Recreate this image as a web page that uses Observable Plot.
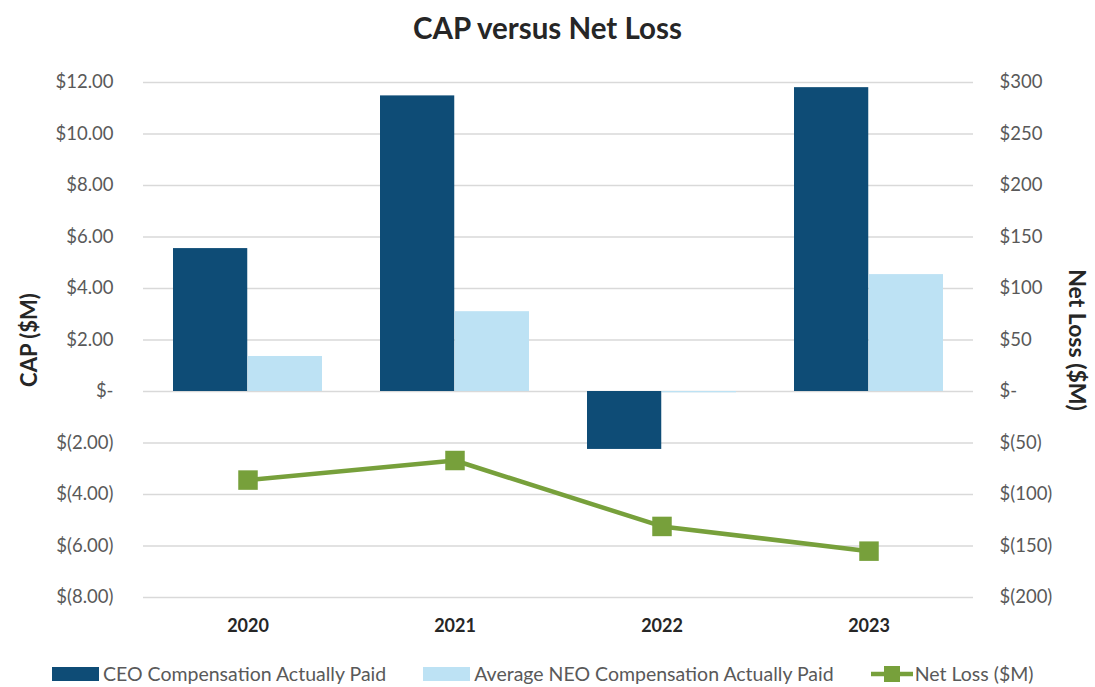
<!DOCTYPE html>
<html><head><meta charset="utf-8">
<script src="https://cdn.jsdelivr.net/npm/d3@7"></script>
<script src="https://cdn.jsdelivr.net/npm/@observablehq/plot@0.6"></script>
<style>
body{margin:0;background:#fff;font-family:Lato,"Open Sans",sans-serif;}
#wrap{position:relative;width:1095px;height:687px;overflow:hidden;}
#title{position:absolute;top:10px;left:0;width:1095px;text-align:center;font-weight:bold;font-size:29.5px;color:#262626;}
#chart{position:absolute;top:60px;left:0;}
.ylab{position:absolute;font-weight:bold;font-size:22px;color:#262626;white-space:nowrap;}
#ylL{left:28px;top:340px;transform:translate(-50%,-50%) rotate(-90deg);}
#ylR{left:1078px;top:340px;transform:translate(-50%,-50%) rotate(90deg);font-size:23px;}
#legend{position:absolute;top:662px;left:52px;display:flex;align-items:center;font-size:19.5px;color:#595959;}
.sw{display:inline-block;width:47px;height:14px;margin-right:4px;}
.item{display:flex;align-items:center;margin-right:37px;}
</style></head>
<body>
<div id="wrap">
<div id="title">CAP versus Net Loss</div>
<div id="chart"></div>
<div class="ylab" id="ylL">CAP ($M)</div>
<div class="ylab" id="ylR">Net Loss ($M)</div>
<div id="legend"></div>
</div>
<script>
const years = ["2020", "2021", "2022", "2023"];
const ceoCAP = [5.55, 11.48, -2.25, 11.80];
const neoCAP = [1.36, 3.10, -0.05, 4.54];
const netLoss = [-86, -67, -131, -155];
const leftTicks = [12, 10, 8, 6, 4, 2, 0, -2, -4, -6, -8];
const rightTicks = [300, 250, 200, 150, 100, 50, 0, -50, -100, -150, -200];
const seriesNames = ["CEO Compensation Actually Paid", "Average NEO Compensation Actually Paid", "Net Loss ($M)"];

const colors = {ceo: "#0e4c76", neo: "#bde2f4", loss: "#77a03b"};
const ratio = 25; // right axis units per left axis unit

const rows = years.map((y, i) => ({year: y, ceo: ceoCAP[i], neo: neoCAP[i], loss: netLoss[i]}));

const fmtL = d => d === 0 ? "$-" : d < 0 ? `$(${Math.abs(d).toFixed(2)})` : `$${d.toFixed(2)}`;
const fmtR = d => d === 0 ? "$-" : d < 0 ? `$(${Math.abs(d)})` : `$${d}`;

const plot = Plot.plot({
  width: 1095,
  height: 580,
  marginLeft: 143,
  marginRight: 122,
  marginTop: 22,
  marginBottom: 43,
  style: {fontFamily: "Lato, 'Open Sans', sans-serif", fontSize: "18.5px", color: "#595959", background: "transparent"},
  x: {domain: years, padding: 0, label: null},
  y: {domain: [-8, 12], label: null},
  marks: [
    Plot.ruleY(leftTicks, {stroke: "#d9d9d9", strokeWidth: 1.5}),
    Plot.barY(rows, {x: "year", y: "ceo", fill: colors.ceo, insetLeft: 29, insetRight: 103.75}),
    Plot.barY(rows, {x: "year", y: "neo", fill: colors.neo, insetLeft: 103.75, insetRight: 29}),
    Plot.line(rows, {x: "year", y: d => d.loss / ratio, stroke: colors.loss, strokeWidth: 4.5}),
    Plot.dot(rows, {x: "year", y: d => d.loss / ratio, symbol: "square", r: 11, fill: colors.loss}),
    Plot.axisY({anchor: "left", ticks: leftTicks, tickFormat: fmtL, tickSize: 0, tickPadding: 30, label: null, fill: "#595959"}),
    Plot.axisY({anchor: "right", ticks: rightTicks.map(v => v / ratio), tickFormat: d => fmtR(Math.round(d * ratio)), tickSize: 0, tickPadding: 26, label: null, fill: "#595959"}),
    Plot.axisX({tickSize: 0, tickPadding: 22, label: null, fontWeight: "bold", fontSize: "18px", fill: "#262626"})
  ]
});
document.getElementById("chart").appendChild(plot);

const lg = document.getElementById("legend");
const sw = [
  `<span class="sw" style="background:${colors.ceo}"></span>`,
  `<span class="sw" style="background:${colors.neo}"></span>`,
  `<svg width="42" height="18" style="margin-right:2px"><line x1="0" y1="9" x2="42" y2="9" stroke="${colors.loss}" stroke-width="4.5"/><rect x="13" y="1" width="16" height="16" fill="${colors.loss}"/></svg>`
];
seriesNames.forEach((n, i) => {
  const d = document.createElement("div");
  d.className = "item";
  d.innerHTML = sw[i] + `<span>${n}</span>`;
  lg.appendChild(d);
});
</script>
</body></html>
